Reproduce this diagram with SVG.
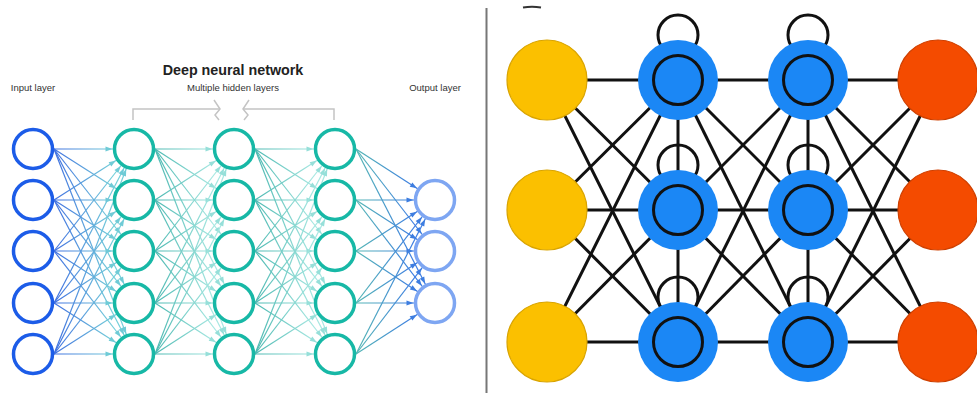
<svg xmlns="http://www.w3.org/2000/svg" width="977" height="393" viewBox="0 0 977 393">
  <defs>
    <style>
      .lbl { font-family: "Liberation Sans", Arial, sans-serif; font-size: 9.5px; fill: #333; }
      .title { font-family: "Liberation Sans", Arial, sans-serif; font-size: 14.3px; font-weight: bold; fill: #222; }
      .n-in { fill: #fff; stroke: #1c5ce8; stroke-width: 3.5; }
      .n-hid { fill: #fff; stroke: #17b8a6; stroke-width: 3.5; }
      .n-out { fill: #fff; stroke: #7ea6f2; stroke-width: 3.5; }
      .e { stroke-width: 1.2; fill: none; }
      .bracket { fill: none; stroke: #c4c4c4; stroke-width: 1.5; }
      .k { stroke: #111; stroke-width: 3; fill: none; }
      .yel { fill: #fbc000; stroke: #d9a400; stroke-width: 1.2; }
      .blu { fill: #1b87f5; }
      .inner { fill: #1b87f5; stroke: #111; stroke-width: 3; }
      .red { fill: #f44b00; stroke: #cf4000; stroke-width: 1.2; }
    </style>
    <linearGradient id="gIn" gradientUnits="userSpaceOnUse" x1="54" y1="0" x2="113" y2="0">
      <stop offset="0" stop-color="#3f6fe0"/>
      <stop offset="1" stop-color="#74cfd9"/>
    </linearGradient>
    <linearGradient id="gH1" gradientUnits="userSpaceOnUse" x1="155" y1="0" x2="213" y2="0">
      <stop offset="0" stop-color="#4bb8b1"/>
      <stop offset="1" stop-color="#a6e7e1"/>
    </linearGradient>
    <linearGradient id="gH2" gradientUnits="userSpaceOnUse" x1="255" y1="0" x2="314" y2="0">
      <stop offset="0" stop-color="#4bb8b1"/>
      <stop offset="1" stop-color="#a6e7e1"/>
    </linearGradient>
    <linearGradient id="gOut" gradientUnits="userSpaceOnUse" x1="356" y1="0" x2="414" y2="0">
      <stop offset="0" stop-color="#55b7b4"/>
      <stop offset="1" stop-color="#3d7de2"/>
    </linearGradient>
    <!-- arrowheads sit on the target's rim: the line runs to the centre, refX pulls the tip back by the outer radius -->
    <marker id="aIn" markerUnits="userSpaceOnUse" viewBox="0 0 7 5" markerWidth="7" markerHeight="5" refX="28.5" refY="2.5" orient="auto" overflow="visible">
      <path d="M0 0L7 2.5L0 5z" fill="#6fcbd6"/>
    </marker>
    <marker id="aHid" markerUnits="userSpaceOnUse" viewBox="0 0 7 5" markerWidth="7" markerHeight="5" refX="28.5" refY="2.5" orient="auto" overflow="visible">
      <path d="M0 0L7 2.5L0 5z" fill="#96dfd9"/>
    </marker>
    <marker id="aOut" markerUnits="userSpaceOnUse" viewBox="0 0 7 5" markerWidth="7" markerHeight="5" refX="28.5" refY="2.5" orient="auto" overflow="visible">
      <path d="M0 0L7 2.5L0 5z" fill="#3d7de0"/>
    </marker>
  </defs>

  <rect width="977" height="393" fill="#fff"/>

  <!-- ===== Left: deep neural network ===== -->
  <text class="title" x="233" y="75" text-anchor="middle">Deep neural network</text>
  <text class="lbl" x="33" y="91" text-anchor="middle">Input layer</text>
  <text class="lbl" x="233" y="91" text-anchor="middle">Multiple hidden layers</text>
  <text class="lbl" x="435" y="91" text-anchor="middle">Output layer</text>

  <g id="hidden-bracket" class="bracket">
    <polyline points="133,120 133,109 219,109"/>
    <polyline points="214,100 220,109 215,115 219,120"/>
    <polyline points="334,120 334,109 244,109"/>
    <polyline points="249,100 243,109 248,115 244,120"/>
  </g>

  <g id="connectors-dnn">
    <g class="e" stroke="url(#gIn)" marker-end="url(#aIn)">
      <line x1="54" y1="149" x2="134" y2="149"/><line x1="54" y1="149" x2="134" y2="200"/><line x1="54" y1="149" x2="134" y2="251"/><line x1="54" y1="149" x2="134" y2="303"/><line x1="54" y1="149" x2="134" y2="354"/>
      <line x1="54" y1="200" x2="134" y2="149"/><line x1="54" y1="200" x2="134" y2="200"/><line x1="54" y1="200" x2="134" y2="251"/><line x1="54" y1="200" x2="134" y2="303"/><line x1="54" y1="200" x2="134" y2="354"/>
      <line x1="54" y1="251" x2="134" y2="149"/><line x1="54" y1="251" x2="134" y2="200"/><line x1="54" y1="251" x2="134" y2="251"/><line x1="54" y1="251" x2="134" y2="303"/><line x1="54" y1="251" x2="134" y2="354"/>
      <line x1="54" y1="303" x2="134" y2="149"/><line x1="54" y1="303" x2="134" y2="200"/><line x1="54" y1="303" x2="134" y2="251"/><line x1="54" y1="303" x2="134" y2="303"/><line x1="54" y1="303" x2="134" y2="354"/>
      <line x1="54" y1="354" x2="134" y2="149"/><line x1="54" y1="354" x2="134" y2="200"/><line x1="54" y1="354" x2="134" y2="251"/><line x1="54" y1="354" x2="134" y2="303"/><line x1="54" y1="354" x2="134" y2="354"/>
    </g>
    <g class="e" stroke="url(#gH1)" marker-end="url(#aHid)">
      <line x1="155" y1="149" x2="234" y2="149"/><line x1="155" y1="149" x2="234" y2="200"/><line x1="155" y1="149" x2="234" y2="251"/><line x1="155" y1="149" x2="234" y2="303"/><line x1="155" y1="149" x2="234" y2="354"/>
      <line x1="155" y1="200" x2="234" y2="149"/><line x1="155" y1="200" x2="234" y2="200"/><line x1="155" y1="200" x2="234" y2="251"/><line x1="155" y1="200" x2="234" y2="303"/><line x1="155" y1="200" x2="234" y2="354"/>
      <line x1="155" y1="251" x2="234" y2="149"/><line x1="155" y1="251" x2="234" y2="200"/><line x1="155" y1="251" x2="234" y2="251"/><line x1="155" y1="251" x2="234" y2="303"/><line x1="155" y1="251" x2="234" y2="354"/>
      <line x1="155" y1="303" x2="234" y2="149"/><line x1="155" y1="303" x2="234" y2="200"/><line x1="155" y1="303" x2="234" y2="251"/><line x1="155" y1="303" x2="234" y2="303"/><line x1="155" y1="303" x2="234" y2="354"/>
      <line x1="155" y1="354" x2="234" y2="149"/><line x1="155" y1="354" x2="234" y2="200"/><line x1="155" y1="354" x2="234" y2="251"/><line x1="155" y1="354" x2="234" y2="303"/><line x1="155" y1="354" x2="234" y2="354"/>
    </g>
    <g class="e" stroke="url(#gH2)" marker-end="url(#aHid)">
      <line x1="255" y1="149" x2="335" y2="149"/><line x1="255" y1="149" x2="335" y2="200"/><line x1="255" y1="149" x2="335" y2="251"/><line x1="255" y1="149" x2="335" y2="303"/><line x1="255" y1="149" x2="335" y2="354"/>
      <line x1="255" y1="200" x2="335" y2="149"/><line x1="255" y1="200" x2="335" y2="200"/><line x1="255" y1="200" x2="335" y2="251"/><line x1="255" y1="200" x2="335" y2="303"/><line x1="255" y1="200" x2="335" y2="354"/>
      <line x1="255" y1="251" x2="335" y2="149"/><line x1="255" y1="251" x2="335" y2="200"/><line x1="255" y1="251" x2="335" y2="251"/><line x1="255" y1="251" x2="335" y2="303"/><line x1="255" y1="251" x2="335" y2="354"/>
      <line x1="255" y1="303" x2="335" y2="149"/><line x1="255" y1="303" x2="335" y2="200"/><line x1="255" y1="303" x2="335" y2="251"/><line x1="255" y1="303" x2="335" y2="303"/><line x1="255" y1="303" x2="335" y2="354"/>
      <line x1="255" y1="354" x2="335" y2="149"/><line x1="255" y1="354" x2="335" y2="200"/><line x1="255" y1="354" x2="335" y2="251"/><line x1="255" y1="354" x2="335" y2="303"/><line x1="255" y1="354" x2="335" y2="354"/>
    </g>
    <g class="e" stroke="url(#gOut)" marker-end="url(#aOut)">
      <line x1="356" y1="149" x2="435" y2="200"/><line x1="356" y1="149" x2="435" y2="251"/><line x1="356" y1="149" x2="435" y2="303"/>
      <line x1="356" y1="200" x2="435" y2="200"/><line x1="356" y1="200" x2="435" y2="251"/><line x1="356" y1="200" x2="435" y2="303"/>
      <line x1="356" y1="251" x2="435" y2="200"/><line x1="356" y1="251" x2="435" y2="251"/><line x1="356" y1="251" x2="435" y2="303"/>
      <line x1="356" y1="303" x2="435" y2="200"/><line x1="356" y1="303" x2="435" y2="251"/><line x1="356" y1="303" x2="435" y2="303"/>
      <line x1="356" y1="354" x2="435" y2="200"/><line x1="356" y1="354" x2="435" y2="251"/><line x1="356" y1="354" x2="435" y2="303"/>
    </g>
  </g>

  <g id="in-1"><circle class="n-in" cx="33" cy="149" r="19.5"/></g>
  <g id="in-2"><circle class="n-in" cx="33" cy="200" r="19.5"/></g>
  <g id="in-3"><circle class="n-in" cx="33" cy="251" r="19.5"/></g>
  <g id="in-4"><circle class="n-in" cx="33" cy="303" r="19.5"/></g>
  <g id="in-5"><circle class="n-in" cx="33" cy="354" r="19.5"/></g>

  <g id="h1-1"><circle class="n-hid" cx="134" cy="149" r="19.5"/></g>
  <g id="h1-2"><circle class="n-hid" cx="134" cy="200" r="19.5"/></g>
  <g id="h1-3"><circle class="n-hid" cx="134" cy="251" r="19.5"/></g>
  <g id="h1-4"><circle class="n-hid" cx="134" cy="303" r="19.5"/></g>
  <g id="h1-5"><circle class="n-hid" cx="134" cy="354" r="19.5"/></g>

  <g id="h2-1"><circle class="n-hid" cx="234" cy="149" r="19.5"/></g>
  <g id="h2-2"><circle class="n-hid" cx="234" cy="200" r="19.5"/></g>
  <g id="h2-3"><circle class="n-hid" cx="234" cy="251" r="19.5"/></g>
  <g id="h2-4"><circle class="n-hid" cx="234" cy="303" r="19.5"/></g>
  <g id="h2-5"><circle class="n-hid" cx="234" cy="354" r="19.5"/></g>

  <g id="h3-1"><circle class="n-hid" cx="335" cy="149" r="19.5"/></g>
  <g id="h3-2"><circle class="n-hid" cx="335" cy="200" r="19.5"/></g>
  <g id="h3-3"><circle class="n-hid" cx="335" cy="251" r="19.5"/></g>
  <g id="h3-4"><circle class="n-hid" cx="335" cy="303" r="19.5"/></g>
  <g id="h3-5"><circle class="n-hid" cx="335" cy="354" r="19.5"/></g>

  <g id="out-1"><circle class="n-out" cx="435" cy="200" r="19.5"/></g>
  <g id="out-2"><circle class="n-out" cx="435" cy="251" r="19.5"/></g>
  <g id="out-3"><circle class="n-out" cx="435" cy="303" r="19.5"/></g>

  <!-- divider -->
  <line x1="486.5" y1="8" x2="486.5" y2="393" stroke="#777" stroke-width="2"/>

  <!-- ===== Right: recurrent network ===== -->
  <path d="M523 7.5Q532 6 541 7.5" stroke="#333" stroke-width="2" fill="none"/>

  <g id="connectors-rnn" class="k">
    <!-- self loops behind hidden units -->
    <circle cx="678" cy="35" r="20"/><circle cx="678" cy="165" r="20"/><circle cx="678" cy="297" r="20"/>
    <circle cx="808" cy="35" r="20"/><circle cx="808" cy="165" r="20"/><circle cx="808" cy="297" r="20"/>
    <!-- vertical links inside hidden columns -->
    <line x1="678" y1="80" x2="678" y2="342"/>
    <line x1="808" y1="80" x2="808" y2="342"/>
    <!-- input -> hidden 1 -->
    <line x1="547" y1="80" x2="678" y2="80"/><line x1="547" y1="80" x2="678" y2="210"/><line x1="547" y1="80" x2="678" y2="342"/>
    <line x1="547" y1="210" x2="678" y2="80"/><line x1="547" y1="210" x2="678" y2="210"/><line x1="547" y1="210" x2="678" y2="342"/>
    <line x1="547" y1="342" x2="678" y2="80"/><line x1="547" y1="342" x2="678" y2="210"/><line x1="547" y1="342" x2="678" y2="342"/>
    <!-- hidden 1 -> hidden 2 -->
    <line x1="678" y1="80" x2="808" y2="80"/><line x1="678" y1="80" x2="808" y2="210"/><line x1="678" y1="80" x2="808" y2="342"/>
    <line x1="678" y1="210" x2="808" y2="80"/><line x1="678" y1="210" x2="808" y2="210"/><line x1="678" y1="210" x2="808" y2="342"/>
    <line x1="678" y1="342" x2="808" y2="80"/><line x1="678" y1="342" x2="808" y2="210"/><line x1="678" y1="342" x2="808" y2="342"/>
    <!-- hidden 2 -> output -->
    <line x1="808" y1="80" x2="938" y2="80"/><line x1="808" y1="80" x2="938" y2="210"/><line x1="808" y1="80" x2="938" y2="342"/>
    <line x1="808" y1="210" x2="938" y2="80"/><line x1="808" y1="210" x2="938" y2="210"/><line x1="808" y1="210" x2="938" y2="342"/>
    <line x1="808" y1="342" x2="938" y2="80"/><line x1="808" y1="342" x2="938" y2="210"/><line x1="808" y1="342" x2="938" y2="342"/>
  </g>

  <g id="x-1"><circle class="yel" cx="547" cy="80" r="40"/></g>
  <g id="x-2"><circle class="yel" cx="547" cy="210" r="40"/></g>
  <g id="x-3"><circle class="yel" cx="547" cy="342" r="40"/></g>

  <g id="r1-1"><circle class="blu" cx="678" cy="80" r="40"/><circle class="inner" cx="678" cy="80" r="24.5"/></g>
  <g id="r1-2"><circle class="blu" cx="678" cy="210" r="40"/><circle class="inner" cx="678" cy="210" r="24.5"/></g>
  <g id="r1-3"><circle class="blu" cx="678" cy="342" r="40"/><circle class="inner" cx="678" cy="342" r="24.5"/></g>

  <g id="r2-1"><circle class="blu" cx="808" cy="80" r="40"/><circle class="inner" cx="808" cy="80" r="24.5"/></g>
  <g id="r2-2"><circle class="blu" cx="808" cy="210" r="40"/><circle class="inner" cx="808" cy="210" r="24.5"/></g>
  <g id="r2-3"><circle class="blu" cx="808" cy="342" r="40"/><circle class="inner" cx="808" cy="342" r="24.5"/></g>

  <g id="y-1"><circle class="red" cx="938" cy="80" r="40"/></g>
  <g id="y-2"><circle class="red" cx="938" cy="210" r="40"/></g>
  <g id="y-3"><circle class="red" cx="938" cy="342" r="40"/></g>
</svg>
